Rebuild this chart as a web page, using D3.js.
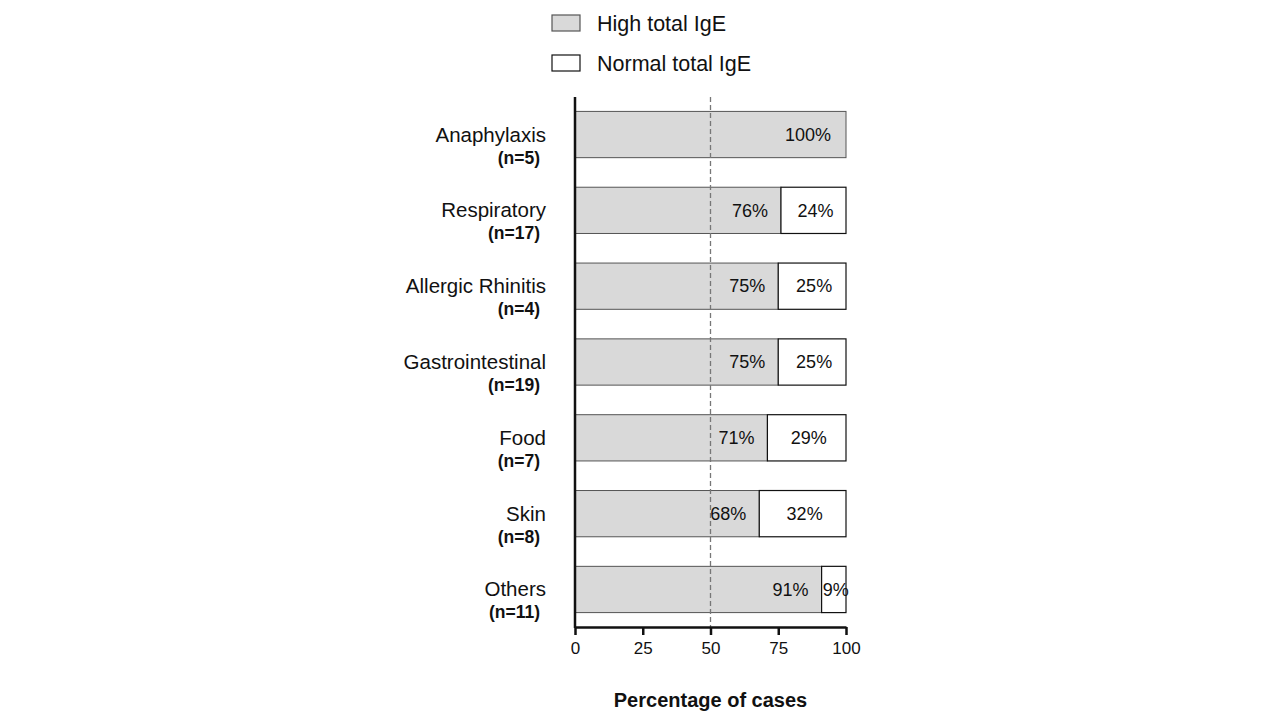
<!DOCTYPE html>
<html>
<head>
<meta charset="utf-8">
<script src="https://cdn.jsdelivr.net/npm/d3@7"></script>
<style>
  body { margin: 0; background: #fff; }
  svg { font-family: "Liberation Sans", Arial, sans-serif; }
</style>
</head>
<body>
<svg id="chart" width="1280" height="720"></svg>
<script>
const categories = ["Anaphylaxis", "Respiratory", "Allergic Rhinitis", "Gastrointestinal", "Food", "Skin", "Others"];
const counts = ["(n=5)", "(n=17)", "(n=4)", "(n=19)", "(n=7)", "(n=8)", "(n=11)"];
const high = [100, 76, 75, 75, 71, 68, 91];
const normal = [0, 24, 25, 25, 29, 32, 9];
const ticks = [0, 25, 50, 75, 100];
const seriesNames = ["High total IgE", "Normal total IgE"];

const margin = {top: 97, left: 575, right: 434, bottom: 93};
const width = 1280, height = 720;

const svg = d3.select("#chart");

const x = d3.scaleLinear()
      .domain([0, 100])
      .range([margin.left, width - margin.right]);

const y = d3.scaleBand()
      .domain(categories)
      .range([margin.top, height - margin.bottom])
      .paddingInner(0.39)
      .paddingOuter(0.19);

const data = categories.map((c, i) => ({cat: c, n: counts[i], high: high[i], normal: normal[i]}));

// bars
const rows = svg.append("g")
  .selectAll("g")
  .data(data)
  .enter().append("g");

rows.append("rect")
  .attr("x", x(0))
  .attr("y", d => y(d.cat))
  .attr("width", d => x(d.high) - x(0))
  .attr("height", y.bandwidth())
  .attr("fill", "#d9d9d9")
  .attr("stroke", "#555")
  .attr("stroke-width", 1);

rows.filter(d => d.normal > 0).append("rect")
  .attr("x", d => x(d.high))
  .attr("y", d => y(d.cat))
  .attr("width", d => x(d.high + d.normal) - x(d.high))
  .attr("height", y.bandwidth())
  .attr("fill", "#fff")
  .attr("stroke", "#111")
  .attr("stroke-width", 1.2);

// dashed 50% line
svg.append("line")
  .attr("x1", x(50)).attr("x2", x(50))
  .attr("y1", margin.top).attr("y2", height - margin.bottom)
  .attr("stroke", "#777")
  .attr("stroke-width", 1.3)
  .attr("stroke-dasharray", "5,3");

// value labels
rows.append("text")
  .attr("x", d => d.normal > 0 ? x(d.high) - 13 : x(d.high) - 15)
  .attr("y", d => y(d.cat) + y.bandwidth() / 2)
  .attr("dy", "0.35em")
  .attr("text-anchor", "end")
  .attr("font-size", 18)
  .attr("fill", "#111")
  .text(d => d.high + "%");

rows.filter(d => d.normal > 0).append("text")
  .attr("x", d => (x(d.high) + x(100)) / 2 + 2)
  .attr("y", d => y(d.cat) + y.bandwidth() / 2)
  .attr("dy", "0.35em")
  .attr("text-anchor", "middle")
  .attr("font-size", 18)
  .attr("fill", "#111")
  .text(d => d.normal + "%");

// category labels
rows.append("text")
  .attr("x", margin.left - 29)
  .attr("y", d => y(d.cat) + y.bandwidth() / 2 + 7)
  .attr("text-anchor", "end")
  .attr("font-size", 20.5)
  .attr("fill", "#111")
  .text(d => d.cat);

rows.append("text")
  .attr("x", margin.left - 35)
  .attr("y", d => y(d.cat) + y.bandwidth() / 2 + 29)
  .attr("text-anchor", "end")
  .attr("font-size", 17.5)
  .attr("font-weight", "bold")
  .attr("fill", "#111")
  .text(d => d.n);

// axes
svg.append("g")
  .attr("transform", `translate(0,${height - margin.bottom})`)
  .call(d3.axisBottom(x).tickValues(ticks).tickSize(8).tickSizeOuter(0).tickPadding(7))
  .call(g => g.select(".domain").attr("stroke", "#111").attr("stroke-width", 2.5))
  .call(g => g.selectAll(".tick line").attr("stroke", "#111").attr("stroke-width", 2.5))
  .call(g => g.selectAll(".tick text")
    .attr("font-size", 17)
    .attr("font-family", "Liberation Sans, Arial, sans-serif")
    .attr("fill", "#111"));

svg.append("line")
  .attr("x1", x(0)).attr("x2", x(0))
  .attr("y1", margin.top).attr("y2", height - margin.bottom + 1)
  .attr("stroke", "#111")
  .attr("stroke-width", 2.5);

svg.append("text")
  .attr("x", x(50))
  .attr("y", 707)
  .attr("text-anchor", "middle")
  .attr("font-size", 20)
  .attr("font-weight", "bold")
  .attr("fill", "#111")
  .text("Percentage of cases");

// legend
const legend = svg.append("g")
  .selectAll("g")
  .data(seriesNames)
  .enter().append("g")
  .attr("transform", (d, i) => `translate(552,${15 + i * 40})`);

legend.append("rect")
  .attr("width", 28)
  .attr("height", 16)
  .attr("fill", (d, i) => i === 0 ? "#d9d9d9" : "#fff")
  .attr("stroke", (d, i) => i === 0 ? "#555" : "#111")
  .attr("stroke-width", 1.2);

legend.append("text")
  .attr("x", 45)
  .attr("y", 8)
  .attr("dy", "0.35em")
  .attr("font-size", 21.5)
  .attr("fill", "#111")
  .text(d => d);
</script>
</body>
</html>
